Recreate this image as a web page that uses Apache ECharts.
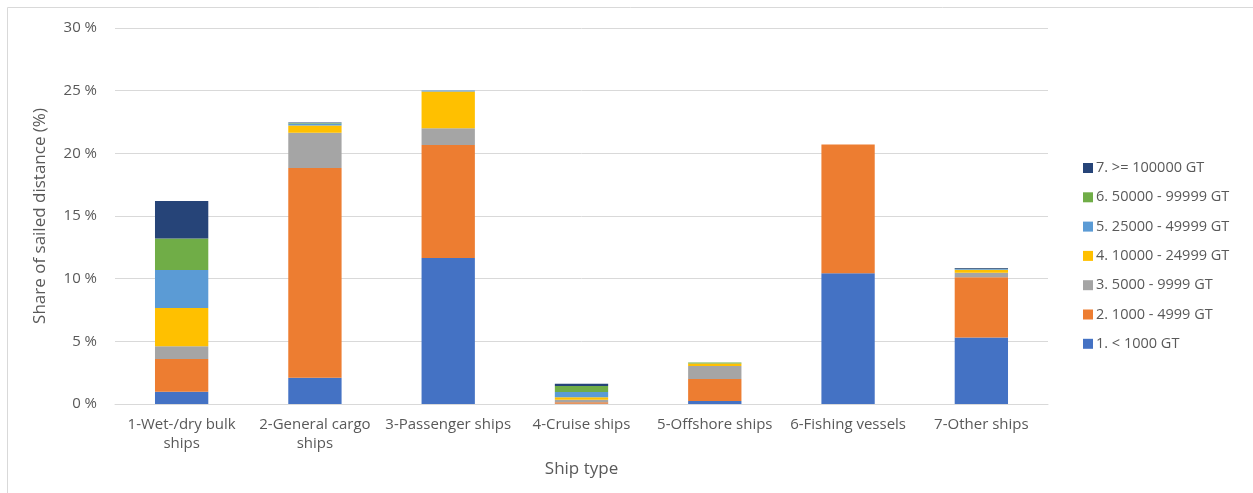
<!DOCTYPE html>
<html>
<head>
<meta charset="utf-8">
<script src="https://cdn.jsdelivr.net/npm/echarts@6/dist/echarts.min.js"></script>
<style>
  html, body { margin: 0; padding: 0; background: #fff; }
  #chart { width: 1253px; height: 493px; }
</style>
</head>
<body>
<div id="chart"></div>
<script>
// ship types (x axis)
const shipTypes = [
  '1-Wet-/dry bulk\nships',
  '2-General cargo\nships',
  '3-Passenger ships',
  '4-Cruise ships',
  '5-Offshore ships',
  '6-Fishing vessels',
  '7-Other ships'
]

// size classes, bottom to top in the stack
const sizeClasses = [
  '1. < 1000 GT',
  '2. 1000 - 4999 GT',
  '3. 5000 - 9999 GT',
  '4. 10000 - 24999 GT',
  '5. 25000 - 49999 GT',
  '6. 50000 - 99999 GT',
  '7. >= 100000 GT'
]

// share of sailed distance (%) per size class
const gtBelow1000 = [0.98, 2.1, 11.65, 0.02, 0.23, 10.43, 5.3]
const gt1000to4999 = [2.62, 16.73, 9.02, 0.11, 1.76, 10.27, 4.81]
const gt5000to9999 = [1.0, 2.82, 1.33, 0.21, 1.04, 0.0, 0.37]
const gt10000to24999 = [3.06, 0.58, 2.93, 0.19, 0.21, 0.0, 0.24]
const gt25000to49999 = [3.04, 0.15, 0.08, 0.42, 0.0, 0.0, 0.05]
const gt50000to99999 = [2.5, 0.04, 0.0, 0.48, 0.08, 0.0, 0.03]
const gtAbove100000 = [3.0, 0.05, 0.0, 0.18, 0.0, 0.0, 0.05]

const yTicks = [0, 5, 10, 15, 20, 25, 30]

const seriesValues = [
  gtBelow1000, gt1000to4999, gt5000to9999, gt10000to24999,
  gt25000to49999, gt50000to99999, gtAbove100000
]
const colors = ['#4472C4', '#ED7D31', '#A5A5A5', '#FFC000', '#5B9BD5', '#70AD47', '#264478']

const textColor = '#595959'
const font = '"Open Sans", "Noto Sans", sans-serif'

const chart = echarts.init(document.getElementById('chart'))

const option = {
  animation: false,
  textStyle: { fontFamily: font },
  graphic: [
    {
      type: 'rect',
      shape: { x: 7.5, y: 7.5, width: 1250, height: 500 },
      style: { fill: 'none', stroke: '#d9d9d9', lineWidth: 1 },
      silent: true
    }
  ],
  legend: {
    orient: 'vertical',
    left: 1078,
    top: 155.5,
    itemWidth: 10,
    itemHeight: 10,
    itemGap: 14.3,
    icon: 'rect',
    data: sizeClasses.slice().reverse(),
    textStyle: { color: textColor, fontSize: 14.5, lineHeight: 15, fontFamily: font, padding: [0, 0, 0, -2] }
  },
  grid: { left: 115, right: 205, top: 28, bottom: 89 },
  xAxis: {
    type: 'category',
    data: shipTypes,
    name: 'Ship type',
    nameLocation: 'middle',
    nameGap: 57,
    nameTextStyle: { color: textColor, fontSize: 17, fontFamily: font },
    axisLine: { lineStyle: { color: '#d9d9d9', width: 1 } },
    axisTick: { show: false },
    axisLabel: { color: textColor, fontSize: 15, margin: 11, lineHeight: 19, interval: 0 }
  },
  yAxis: {
    type: 'value',
    min: yTicks[0],
    max: yTicks[yTicks.length - 1],
    interval: 5,
    name: 'Share of sailed distance (%)',
    nameLocation: 'middle',
    nameGap: 66,
    nameTextStyle: { color: textColor, fontSize: 17, fontFamily: font },
    axisLine: { show: false },
    axisTick: { show: false },
    splitLine: { lineStyle: { color: '#d9d9d9', width: 1 } },
    axisLabel: { color: textColor, fontSize: 15, margin: 18, formatter: '{value} %' }
  },
  series: sizeClasses.map((name, i) => ({
    name: name,
    type: 'bar',
    stack: 'total',
    barWidth: '40%',
    itemStyle: { color: colors[i] },
    data: seriesValues[i]
  }))
}

chart.setOption(option)
</script>
</body>
</html>
